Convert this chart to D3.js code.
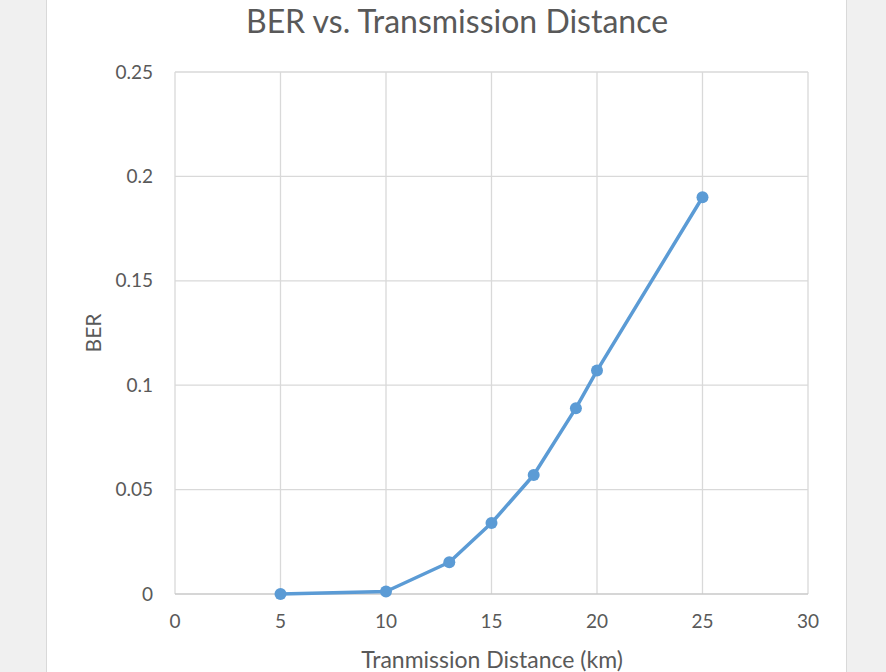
<!DOCTYPE html>
<html><head><meta charset="utf-8">
<script src="https://cdn.jsdelivr.net/npm/d3@7"></script>
<style>
html,body{margin:0;padding:0;background:#f0f0f0;}
svg{display:block;}
</style></head>
<body>
<script>
const distances = [5, 10, 13, 15, 17, 19, 20, 25];
const berValues = [0, 0.0012, 0.0152, 0.034, 0.057, 0.089, 0.107, 0.190];
const xTicks = [0, 5, 10, 15, 20, 25, 30];
const yTicks = [0, 0.05, 0.1, 0.15, 0.2, 0.25];
const yTickLabels = ["0", "0.05", "0.1", "0.15", "0.2", "0.25"];
const chartTitle = "BER vs. Transmission Distance";
const xTitle = "Tranmission Distance (km)";
const yTitle = "BER";

const W = 886, H = 672;
const font = "Lato, 'Open Sans', sans-serif";
const textColor = "#595959";
const svg = d3.select("body").append("svg").attr("width", W).attr("height", H);

svg.append("rect").attr("x", 0).attr("y", 0).attr("width", W).attr("height", H).attr("fill", "#f0f0f0");
svg.append("rect").attr("x", 46.5).attr("y", -2).attr("width", 800).attr("height", H + 4)
  .attr("fill", "#ffffff").attr("stroke", "#d9d9d9").attr("stroke-width", 1);

const plot = {left: 175, right: 808, top: 72, bottom: 594};
const x = d3.scaleLinear().domain([0, 30]).range([plot.left, plot.right]);
const y = d3.scaleLinear().domain([0, 0.25]).range([plot.bottom, plot.top]);

// gridlines
const g = svg.append("g");
g.selectAll("line.h").data(yTicks.slice(1)).enter().append("line")
  .attr("x1", plot.left).attr("x2", plot.right)
  .attr("y1", d => y(d)).attr("y2", d => y(d))
  .attr("stroke", "#d9d9d9").attr("stroke-width", 1.3);
g.selectAll("line.v").data(xTicks).enter().append("line")
  .attr("x1", d => x(d)).attr("x2", d => x(d))
  .attr("y1", plot.top).attr("y2", plot.bottom)
  .attr("stroke", "#d9d9d9").attr("stroke-width", 1.3);
// bottom axis line
g.append("line").attr("x1", plot.left).attr("x2", plot.right)
  .attr("y1", y(0)).attr("y2", y(0)).attr("stroke", "#c8c8c8").attr("stroke-width", 1.5);

// tick labels
svg.append("g").selectAll("text").data(yTicks).enter().append("text")
  .attr("x", 153).attr("y", d => y(d)).attr("dy", "0.35em")
  .attr("text-anchor", "end").attr("font-family", font).attr("font-size", 19)
  .attr("fill", textColor).text((d, i) => yTickLabels[i]);
svg.append("g").selectAll("text").data(xTicks).enter().append("text")
  .attr("x", d => x(d)).attr("y", 621).attr("dy", "0.35em")
  .attr("text-anchor", "middle").attr("font-family", font).attr("font-size", 19)
  .attr("fill", textColor).text(d => d);

// titles
svg.append("text").attr("x", 457).attr("y", 22).attr("dy", "0.35em")
  .attr("text-anchor", "middle").attr("font-family", font).attr("font-size", 32)
  .attr("fill", textColor).text(chartTitle);
svg.append("text").attr("x", 492).attr("y", 660).attr("dy", "0.35em")
  .attr("text-anchor", "middle").attr("font-family", font).attr("font-size", 23)
  .attr("fill", textColor).text(xTitle);
svg.append("text").attr("transform", `translate(94,${(plot.top + plot.bottom) / 2}) rotate(-90)`)
  .attr("dy", "0.35em").attr("text-anchor", "middle").attr("font-family", font).attr("font-size", 21)
  .attr("fill", textColor).text(yTitle);

// series
const data = distances.map((d, i) => ({x: d, y: berValues[i]}));
const line = d3.line().x(d => x(d.x)).y(d => y(d.y));
svg.append("path").datum(data).attr("d", line).attr("fill", "none")
  .attr("stroke", "#5b9bd5").attr("stroke-width", 3.5).attr("stroke-linejoin", "round");
svg.append("g").selectAll("circle").data(data).enter().append("circle")
  .attr("cx", d => x(d.x)).attr("cy", d => y(d.y)).attr("r", 6)
  .attr("fill", "#5b9bd5");
</script>
</body></html>
